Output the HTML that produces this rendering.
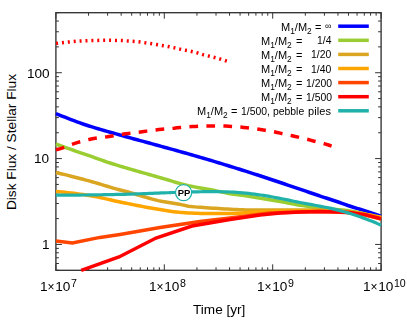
<!DOCTYPE html><html><head><meta charset="utf-8"><style>
html,body{margin:0;padding:0;background:#fff}
#w{position:relative;width:407px;height:320px;overflow:hidden;background:#fff;font-family:"Liberation Sans",sans-serif;color:#000}
.t{position:absolute;white-space:nowrap;line-height:1;will-change:transform}
.lgA{font-size:11px}
.lgV{font-size:10.4px}
.lgA sub{font-size:8.4px;vertical-align:baseline;position:relative;top:2.5px}
.ax{font-size:13.6px}
.x{font-size:12px;margin-right:0.7px;position:relative;top:-0.3px}
.ax sup{font-size:10.6px;vertical-align:baseline;position:relative;top:-4.5px;margin-left:0.5px}
</style></head><body><div id="w">
<svg width="407" height="320" viewBox="0 0 407 320" style="position:absolute;left:0;top:0">
<defs><clipPath id="c"><rect x="55.9" y="12.7" width="325.20000000000005" height="257.6"/></clipPath></defs>
<rect x="55.9" y="12.7" width="325.20" height="257.60" fill="none" stroke="#333" stroke-width="1.35"/>
<path d="M55.90 270.3 v-6 M55.90 12.7 v6 M88.53 270.3 v-3 M88.53 12.7 v3 M107.62 270.3 v-3 M107.62 12.7 v3 M121.16 270.3 v-3 M121.16 12.7 v3 M131.67 270.3 v-3 M131.67 12.7 v3 M140.25 270.3 v-3 M140.25 12.7 v3 M147.51 270.3 v-3 M147.51 12.7 v3 M153.79 270.3 v-3 M153.79 12.7 v3 M159.34 270.3 v-3 M159.34 12.7 v3 M164.30 270.3 v-6 M164.30 12.7 v6 M196.93 270.3 v-3 M196.93 12.7 v3 M216.02 270.3 v-3 M216.02 12.7 v3 M229.56 270.3 v-3 M229.56 12.7 v3 M240.07 270.3 v-3 M240.07 12.7 v3 M248.65 270.3 v-3 M248.65 12.7 v3 M255.91 270.3 v-3 M255.91 12.7 v3 M262.19 270.3 v-3 M262.19 12.7 v3 M267.74 270.3 v-3 M267.74 12.7 v3 M272.70 270.3 v-6 M272.70 12.7 v6 M305.33 270.3 v-3 M305.33 12.7 v3 M324.42 270.3 v-3 M324.42 12.7 v3 M337.96 270.3 v-3 M337.96 12.7 v3 M348.47 270.3 v-3 M348.47 12.7 v3 M357.05 270.3 v-3 M357.05 12.7 v3 M364.31 270.3 v-3 M364.31 12.7 v3 M370.59 270.3 v-3 M370.59 12.7 v3 M376.14 270.3 v-3 M376.14 12.7 v3 M381.10 270.3 v-6 M381.10 12.7 v6 M55.9 270.30 h3 M381.1 270.30 h-3 M55.9 263.50 h3 M381.1 263.50 h-3 M55.9 257.75 h3 M381.1 257.75 h-3 M55.9 252.77 h3 M381.1 252.77 h-3 M55.9 248.38 h3 M381.1 248.38 h-3 M55.9 244.45 h6 M381.1 244.45 h-6 M55.9 218.60 h3 M381.1 218.60 h-3 M55.9 203.48 h3 M381.1 203.48 h-3 M55.9 192.75 h3 M381.1 192.75 h-3 M55.9 184.43 h3 M381.1 184.43 h-3 M55.9 177.63 h3 M381.1 177.63 h-3 M55.9 171.89 h3 M381.1 171.89 h-3 M55.9 166.91 h3 M381.1 166.91 h-3 M55.9 162.51 h3 M381.1 162.51 h-3 M55.9 158.58 h6 M381.1 158.58 h-6 M55.9 132.74 h3 M381.1 132.74 h-3 M55.9 117.62 h3 M381.1 117.62 h-3 M55.9 106.89 h3 M381.1 106.89 h-3 M55.9 98.57 h3 M381.1 98.57 h-3 M55.9 91.77 h3 M381.1 91.77 h-3 M55.9 86.02 h3 M381.1 86.02 h-3 M55.9 81.04 h3 M381.1 81.04 h-3 M55.9 76.65 h3 M381.1 76.65 h-3 M55.9 72.72 h6 M381.1 72.72 h-6 M55.9 46.87 h3 M381.1 46.87 h-3 M55.9 31.75 h3 M381.1 31.75 h-3 M55.9 21.02 h3 M381.1 21.02 h-3 M55.9 12.70 h3 M381.1 12.70 h-3" stroke="#333" stroke-width="1" fill="none"/>
<g fill="none" stroke-linejoin="miter" stroke-linecap="butt">
<polyline stroke="#0000ff" stroke-width="3.5" points="55.9,113.6 58.91,114.84 61.92,116.05 64.93,117.24 67.94,118.41 70.96,119.56 73.97,120.7 76.98,121.82 79.99,122.92 83.0,123.99 86.01,125.0 89.02,125.98 92.03,126.92 95.04,127.85 98.06,128.75 101.07,129.63 104.08,130.5 107.09,131.36 110.1,132.21 113.11,133.05 116.12,133.9 119.13,134.75 122.14,135.61 125.16,136.45 128.17,137.29 131.18,138.12 134.19,138.95 137.2,139.77 140.21,140.59 143.22,141.41 146.23,142.23 149.24,143.05 152.26,143.87 155.27,144.69 158.28,145.52 161.29,146.36 164.3,147.19 167.31,148.02 170.32,148.85 173.33,149.68 176.34,150.52 179.36,151.35 182.37,152.19 185.38,153.03 188.39,153.87 191.4,154.73 194.41,155.58 197.42,156.45 200.43,157.33 203.44,158.21 206.46,159.11 209.47,160.01 212.48,160.92 215.49,161.83 218.5,162.75 221.51,163.68 224.52,164.61 227.53,165.54 230.54,166.47 233.56,167.4 236.57,168.34 239.58,169.29 242.59,170.23 245.6,171.18 248.61,172.14 251.62,173.1 254.63,174.07 257.64,175.04 260.66,176.01 263.67,177.0 266.68,177.99 269.69,178.98 272.7,179.99 275.71,180.99 278.72,182.0 281.73,183.02 284.74,184.03 287.76,185.04 290.77,186.06 293.78,187.08 296.79,188.1 299.8,189.13 302.81,190.16 305.82,191.19 308.83,192.22 311.84,193.25 314.86,194.27 317.87,195.28 320.88,196.29 323.89,197.29 326.9,198.27 329.91,199.24 332.92,200.22 335.93,201.22 338.94,202.24 341.96,203.29 344.97,204.4 347.98,205.5 350.99,206.52 354.0,207.47 357.01,208.37 360.02,209.27 363.03,210.18 366.04,211.14 369.06,212.13 372.07,213.14 375.08,214.17 378.09,215.23 381.1,216.3"/>
<polyline stroke="#9acd32" stroke-width="3.5" points="55.9,144.0 58.91,145.11 61.92,146.2 64.93,147.29 67.94,148.37 70.96,149.44 73.97,150.49 76.98,151.53 79.99,152.56 83.0,153.59 86.01,154.62 89.02,155.66 92.03,156.71 95.04,157.78 98.06,158.86 101.07,159.94 104.08,161.0 107.09,162.04 110.1,163.03 113.11,163.99 116.12,164.91 119.13,165.82 122.14,166.71 125.16,167.58 128.17,168.46 131.18,169.35 134.19,170.22 137.2,171.1 140.21,171.97 143.22,172.83 146.23,173.69 149.24,174.55 152.26,175.4 155.27,176.26 158.28,177.11 161.29,177.97 164.3,178.85 167.31,179.75 170.32,180.65 173.33,181.56 176.34,182.45 179.36,183.31 182.37,184.14 185.38,184.92 188.39,185.64 191.4,186.29 194.41,186.88 197.42,187.43 200.43,187.94 203.44,188.44 206.46,188.96 209.47,189.5 212.48,190.09 215.49,190.71 218.5,191.34 221.51,191.98 224.52,192.59 227.53,193.17 230.54,193.69 233.56,194.15 236.57,194.56 239.58,194.96 242.59,195.35 245.6,195.75 248.61,196.18 251.62,196.67 254.63,197.21 257.64,197.78 260.66,198.31 263.67,198.82 266.68,199.31 269.69,199.8 272.7,200.28 275.71,200.77 278.72,201.28 281.73,201.81 284.74,202.37 287.76,202.95 290.77,203.54 293.78,204.11 296.79,204.66 299.8,205.17 302.81,205.64 305.82,206.11 308.83,206.56 311.84,206.98 314.86,207.39 317.87,207.76 320.88,208.09 323.89,208.39 326.9,208.66 329.91,208.91 332.92,209.15 335.93,209.41 338.94,209.69 341.96,210.0 344.97,210.33 347.98,210.71 350.99,211.16 354.0,211.67 357.01,212.24 360.02,212.88 363.03,213.57 366.04,214.32 369.06,215.14 372.07,216.01 375.08,216.95 378.09,217.94 381.1,219.0"/>
<polyline stroke="#daa520" stroke-width="3.5" points="55.9,172.5 58.91,173.21 61.92,173.94 64.93,174.67 67.94,175.42 70.96,176.18 73.97,176.95 76.98,177.72 79.99,178.51 83.0,179.31 86.01,180.12 89.02,180.93 92.03,181.76 95.04,182.63 98.06,183.52 101.07,184.43 104.08,185.34 107.09,186.26 110.1,187.17 113.11,188.06 116.12,188.93 119.13,189.77 122.14,190.55 125.16,191.27 128.17,192.01 131.18,192.84 134.19,193.77 137.2,194.74 140.21,195.66 143.22,196.54 146.23,197.43 149.24,198.29 152.26,199.13 155.27,199.91 158.28,200.63 161.29,201.26 164.3,201.82 167.31,202.33 170.32,202.81 173.33,203.28 176.34,203.76 179.36,204.28 182.37,204.89 185.38,205.57 188.39,206.17 191.4,206.56 194.41,206.87 197.42,207.13 200.43,207.36 203.44,207.57 206.46,207.76 209.47,207.96 212.48,208.17 215.49,208.37 218.5,208.56 221.51,208.74 224.52,208.92 227.53,209.08 230.54,209.23 233.56,209.38 236.57,209.54 239.58,209.7 242.59,209.83 245.6,209.94 248.61,209.99 251.62,210.0 254.63,210.0 257.64,210.0 260.66,210.0 263.67,210.0 266.68,210.0 269.69,210.0 272.7,210.0 275.71,210.0 278.72,210.0 281.73,210.0 284.74,210.0 287.76,210.0 290.77,210.0 293.78,210.0 296.79,210.0 299.8,210.0 302.81,210.0 305.82,210.0 308.83,210.0 311.84,210.0 314.86,210.0 317.87,210.0 320.88,210.0 323.89,210.06 326.9,210.16 329.91,210.32 332.92,210.5 335.93,210.71 338.94,210.92 341.96,211.15 344.97,211.42 347.98,211.72 350.99,212.07 354.0,212.46 357.01,212.88 360.02,213.35 363.03,213.85 366.04,214.38 369.06,214.94 372.07,215.54 375.08,216.16 378.09,216.82 381.1,217.5"/>
<polyline stroke="#ffa500" stroke-width="3.5" points="55.9,191.6 58.91,191.82 61.92,192.07 64.93,192.35 67.94,192.66 70.96,193.0 73.97,193.36 76.98,193.74 79.99,194.14 83.0,194.57 86.01,195.0 89.02,195.45 92.03,195.93 95.04,196.47 98.06,197.07 101.07,197.71 104.08,198.39 107.09,199.09 110.1,199.79 113.11,200.49 116.12,201.17 119.13,201.82 122.14,202.44 125.16,203.04 128.17,203.63 131.18,204.24 134.19,204.85 137.2,205.45 140.21,206.04 143.22,206.61 146.23,207.18 149.24,207.74 152.26,208.29 155.27,208.82 158.28,209.32 161.29,209.8 164.3,210.29 167.31,210.78 170.32,211.24 173.33,211.67 176.34,212.04 179.36,212.35 182.37,212.58 185.38,212.77 188.39,212.93 191.4,213.06 194.41,213.19 197.42,213.31 200.43,213.42 203.44,213.51 206.46,213.57 209.47,213.6 212.48,213.6 215.49,213.6 218.5,213.6 221.51,213.6 224.52,213.6 227.53,213.6 230.54,213.6 233.56,213.53 236.57,213.37 239.58,213.16 242.59,212.92 245.6,212.69 248.61,212.48 251.62,212.32 254.63,212.16 257.64,212.0 260.66,211.85 263.67,211.72 266.68,211.6 269.69,211.51 272.7,211.43 275.71,211.36 278.72,211.29 281.73,211.22 284.74,211.16 287.76,211.11 290.77,211.06 293.78,211.03 296.79,211.01 299.8,211.0 302.81,211.0 305.82,211.0 308.83,211.0 311.84,211.0 314.86,211.0 317.87,211.0 320.88,211.0 323.89,211.03 326.9,211.08 329.91,211.15 332.92,211.24 335.93,211.34 338.94,211.46 341.96,211.59 344.97,211.77 347.98,212.01 350.99,212.3 354.0,212.64 357.01,213.03 360.02,213.45 363.03,213.93 366.04,214.44 369.06,214.99 372.07,215.57 375.08,216.18 378.09,216.83 381.1,217.5"/>
<polyline stroke="#ff4500" stroke-width="3.5" points="55.9,241 72.4,243 100,237.4 120,234.4 140,231 160,227.6 180,224.4 200,221.6 230,218 250,215.5 270,213 300,212 320,211.6 340,212.2 350,212.8 365,215 381.1,219"/>
<polyline stroke="#ff0000" stroke-width="3.5" points="81.2,270.3 119,257 156,238 192,226 230,219.5 250,216.5 260,215 280,213 300,212 320,211.6 340,212.0 350,212.6 365,214.6 381.1,218.6"/>
<polyline stroke="#20b2aa" stroke-width="3.2" points="55.9,195.2 58.91,195.2 61.92,195.19 64.93,195.18 67.94,195.16 70.96,195.14 73.97,195.12 76.98,195.09 79.99,195.05 83.0,195.02 86.01,194.98 89.02,194.94 92.03,194.89 95.04,194.85 98.06,194.8 101.07,194.75 104.08,194.7 107.09,194.64 110.1,194.59 113.11,194.53 116.12,194.47 119.13,194.42 122.14,194.36 125.16,194.28 128.17,194.2 131.18,194.1 134.19,193.99 137.2,193.88 140.21,193.77 143.22,193.65 146.23,193.53 149.24,193.4 152.26,193.29 155.27,193.17 158.28,193.06 161.29,192.96 164.3,192.85 167.31,192.74 170.32,192.63 173.33,192.52 176.34,192.42 179.36,192.31 182.37,192.22 185.38,192.12 188.39,192.04 191.4,191.96 194.41,191.88 197.42,191.8 200.43,191.73 203.44,191.67 206.46,191.62 209.47,191.6 212.48,191.61 215.49,191.64 218.5,191.69 221.51,191.76 224.52,191.83 227.53,191.92 230.54,192.02 233.56,192.16 236.57,192.35 239.58,192.57 242.59,192.82 245.6,193.11 248.61,193.44 251.62,193.79 254.63,194.16 257.64,194.57 260.66,194.99 263.67,195.45 266.68,195.94 269.69,196.45 272.7,196.99 275.71,197.56 278.72,198.15 281.73,198.74 284.74,199.34 287.76,199.94 290.77,200.56 293.78,201.2 296.79,201.84 299.8,202.46 302.81,203.04 305.82,203.61 308.83,204.15 311.84,204.69 314.86,205.24 317.87,205.79 320.88,206.37 323.89,206.95 326.9,207.54 329.91,208.18 332.92,208.88 335.93,209.64 338.94,210.42 341.96,211.22 344.97,212.04 347.98,212.9 350.99,213.8 354.0,214.76 357.01,215.76 360.02,216.8 363.03,217.88 366.04,218.99 369.06,220.15 372.07,221.35 375.08,222.59 378.09,223.88 381.1,225.2"/>
<polyline stroke="#ff0000" stroke-width="3.5" stroke-dasharray="2 3.9" stroke-dashoffset="-0.2" points="55.9,43.4 58.92,43.05 61.93,42.71 64.95,42.4 67.96,42.1 70.98,41.79 73.99,41.49 77.01,41.25 80.03,41.06 83.04,40.89 86.06,40.74 89.07,40.62 92.09,40.52 95.11,40.45 98.12,40.4 101.14,40.33 104.15,40.3 107.17,40.3 110.18,40.3 113.2,40.34 116.22,40.4 119.23,40.44 122.25,40.51 125.26,40.74 128.28,41.02 131.29,41.21 134.31,41.43 137.33,41.7 140.34,42.04 143.36,42.49 146.37,42.94 149.39,43.36 152.41,43.82 155.42,44.33 158.44,44.84 161.45,45.34 164.47,45.85 167.48,46.39 170.5,46.97 173.52,47.61 176.53,48.29 179.55,49.01 182.56,49.65 185.58,50.25 188.59,50.87 191.61,51.51 194.63,52.2 197.64,52.96 200.66,53.92 203.67,54.87 206.69,55.62 209.71,56.32 212.72,57.04 215.74,57.79 218.75,58.61 221.77,59.49 224.78,60.42 227.8,61.4"/>
<polyline stroke="#ff0000" stroke-width="3.5" stroke-dasharray="8.7 8.3" points="55.9,149.9 58.93,149.06 61.96,148.12 64.99,147.09 68.02,145.9 71.05,144.7 74.08,143.65 77.11,142.68 80.14,141.78 83.17,140.92 86.2,140.12 89.23,139.43 92.26,138.8 95.29,138.26 98.32,137.84 101.35,137.53 104.37,137.2 107.4,136.76 110.43,136.24 113.46,135.72 116.49,135.18 119.52,134.64 122.55,134.17 125.58,133.76 128.61,133.37 131.64,133.0 134.67,132.64 137.7,132.29 140.73,131.91 143.76,131.52 146.79,131.13 149.82,130.74 152.85,130.35 155.88,129.97 158.91,129.58 161.94,129.21 164.97,128.92 168.0,128.71 171.03,128.51 174.06,128.23 177.09,127.85 180.12,127.49 183.15,127.22 186.18,126.99 189.21,126.79 192.24,126.6 195.26,126.43 198.29,126.29 201.32,126.14 204.35,126.02 207.38,126.0 210.41,126.0 213.44,126.0 216.47,126.0 219.5,126.0 222.53,126.0 225.56,126.06 228.59,126.23 231.62,126.41 234.65,126.6 237.68,126.81 240.71,127.07 243.74,127.41 246.77,127.8 249.8,128.17 252.83,128.52 255.86,128.9 258.89,129.33 261.92,129.81 264.95,130.3 267.98,130.77 271.01,131.25 274.04,131.78 277.07,132.45 280.1,133.17 283.13,133.83 286.15,134.42 289.18,135.03 292.21,135.71 295.24,136.44 298.27,137.17 301.3,137.84 304.33,138.51 307.36,139.25 310.39,140.1 313.42,140.98 316.45,141.75 319.48,142.44 322.51,143.18 325.54,144.05 328.57,145.03 331.6,146.1"/>
</g>
<line x1="338.2" x2="368.8" y1="26.2" y2="26.2" stroke="#0000ff" stroke-width="3.5"/>
<line x1="338.2" x2="368.8" y1="40.3" y2="40.3" stroke="#9acd32" stroke-width="3.5"/>
<line x1="338.2" x2="368.8" y1="54.4" y2="54.4" stroke="#daa520" stroke-width="3.5"/>
<line x1="338.2" x2="368.8" y1="68.5" y2="68.5" stroke="#ffa500" stroke-width="3.5"/>
<line x1="338.2" x2="368.8" y1="82.6" y2="82.6" stroke="#ff4500" stroke-width="3.5"/>
<line x1="338.2" x2="368.8" y1="96.7" y2="96.7" stroke="#ff0000" stroke-width="3.5"/>
<line x1="338.2" x2="368.8" y1="110.8" y2="110.8" stroke="#20b2aa" stroke-width="3.5"/>
<circle cx="183.6" cy="192.6" r="8.1" fill="#fff" stroke="#20b2aa" stroke-width="1.25"/>
</svg>
<div class="t lgA" style="left:280.70px;top:21.70px">M<sub>1</sub>/M<sub>2</sub></div>
<div class="t lgA" style="left:315.25px;top:21.70px">=</div>
<div class="t" style="left:324.8px;top:22.30px;font-size:9px">∞</div>
<div class="t lgA" style="left:261.10px;top:35.80px">M<sub>1</sub>/M<sub>2</sub></div>
<div class="t lgA" style="left:295.65px;top:35.80px">=</div>
<div class="t lgV" style="right:75.30px;top:36.35px">1/4</div>
<div class="t lgA" style="left:261.10px;top:49.90px">M<sub>1</sub>/M<sub>2</sub></div>
<div class="t lgA" style="left:295.65px;top:49.90px">=</div>
<div class="t lgV" style="right:75.30px;top:50.45px">1/20</div>
<div class="t lgA" style="left:261.10px;top:64.00px">M<sub>1</sub>/M<sub>2</sub></div>
<div class="t lgA" style="left:295.65px;top:64.00px">=</div>
<div class="t lgV" style="right:75.30px;top:64.55px">1/40</div>
<div class="t lgA" style="left:261.10px;top:78.10px">M<sub>1</sub>/M<sub>2</sub></div>
<div class="t lgA" style="left:295.65px;top:78.10px">=</div>
<div class="t lgV" style="right:75.30px;top:78.65px">1/200</div>
<div class="t lgA" style="left:261.10px;top:92.20px">M<sub>1</sub>/M<sub>2</sub></div>
<div class="t lgA" style="left:295.65px;top:92.20px">=</div>
<div class="t lgV" style="right:75.30px;top:92.75px">1/500</div>
<div class="t lgA" style="left:196.50px;top:106.30px">M<sub>1</sub>/M<sub>2</sub></div>
<div class="t lgA" style="left:231.05px;top:106.30px">=</div>
<div class="t lgV" style="left:241.10px;top:106.85px">1/500,</div>
<div class="t lgV" style="left:273.2px;top:106.85px">pebble</div>
<div class="t lgV" style="left:308.1px;top:106.35px;font-size:11px;letter-spacing:0.1px">piles</div>
<div class="t ax" style="right:357.45px;top:66.52px">100</div>
<div class="t ax" style="right:357.45px;top:152.38px">10</div>
<div class="t ax" style="right:357.45px;top:238.25px">1</div>
<div class="t ax" style="left:40.20px;top:279.5px">1<span class="x">×</span>10<sup>7</sup></div>
<div class="t ax" style="left:148.60px;top:279.5px">1<span class="x">×</span>10<sup>8</sup></div>
<div class="t ax" style="left:257.00px;top:279.5px">1<span class="x">×</span>10<sup>9</sup></div>
<div class="t ax" style="left:362.70px;top:279.5px">1<span class="x">×</span>10<sup>10</sup></div>
<div class="t ax" style="left:193.1px;top:302.7px">Time [yr]</div>
<div class="t ax" style="left:12.1px;top:141.9px;font-size:13.7px;will-change:auto;transform:translate(-50%,-50%) rotate(-90deg);">Disk Flux / Stellar Flux</div>
<div class="t" style="left:183.8px;top:192.9px;transform:translate(-50%,-50%);font-size:9.5px;font-weight:bold">PP</div>
</div></body></html>
